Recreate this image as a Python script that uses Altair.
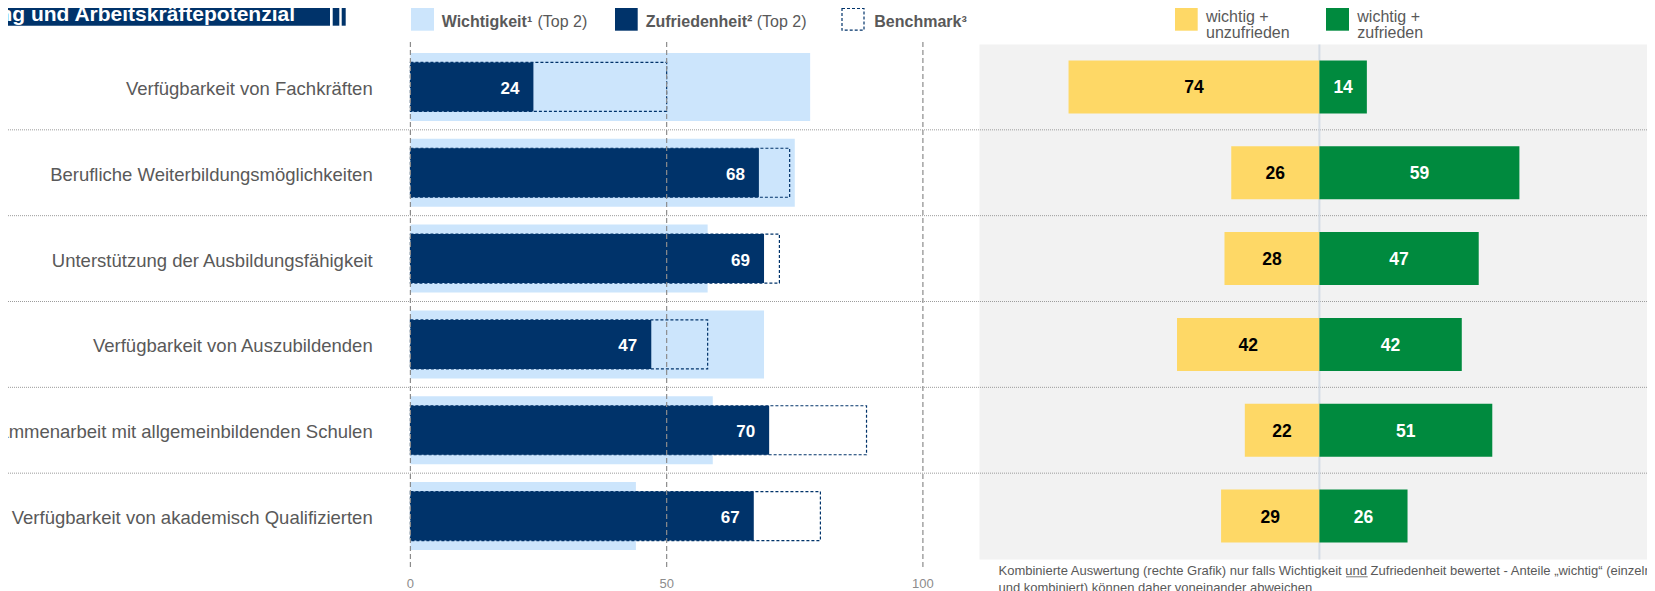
import altair as alt
import pandas as pd

# ---------------- data ----------------
categories = [
    "Verfügbarkeit von Fachkräften",
    "Berufliche Weiterbildungsmöglichkeiten",
    "Unterstützung der Ausbildungsfähigkeit",
    "Verfügbarkeit von Auszubildenden",
    "Zusammenarbeit mit allgemeinbildenden Schulen",
    "Verfügbarkeit von akademisch Qualifizierten",
]
importance = [78, 75, 58, 69, 59, 44]          # Wichtigkeit (Top 2)
satisfaction = [24, 68, 69, 47, 70, 67]        # Zufriedenheit (Top 2)
benchmark = [50, 74, 72, 58, 89, 80]           # Benchmark
important_unsatisfied = [74, 26, 28, 42, 22, 29]
important_satisfied = [14, 59, 47, 42, 51, 26]
tick_values = [0, 50, 100]

title_text = "ng und Arbeitskräftepotenzial"
footnote = [
    "Kombinierte Auswertung (rechte Grafik) nur falls Wichtigkeit und Zufriedenheit bewertet - Anteile \u201ewichtig\u201c (einzeln",
    "und kombiniert) können daher voneinander abweichen",
]

# ---------------- style ----------------
W, H = 1639, 515
FONT = "Liberation Sans"
NAVY = "#00336a"
LIGHT = "#cce5fc"
YELLOW = "#fed866"
GREEN = "#008a3e"
PANEL = "#f2f2f2"
TXT = "#595959"

df = pd.DataFrame({
    "cat": categories,
    "imp": importance,
    "sat": satisfaction,
    "bench": benchmark,
    "unsat_c": important_unsatisfied,
    "sat_c": important_satisfied,
})
ticks = pd.DataFrame({"t": tick_values})
one = pd.DataFrame({"k": [0]})

left_scale = alt.Scale(domain=[-78.52, 241.29], nice=False)
right_scale = alt.Scale(domain=[-386.85, 96.64], nice=False)
yscale = alt.Scale(domain=categories, paddingInner=0, paddingOuter=0)


def Y(**kw):
    return alt.Y("cat:N", scale=yscale, axis=None, **kw)


def vrect(x1, x2, y1, y2, **mk):
    return alt.Chart(one).mark_rect(**mk).encode(
        x=alt.value(x1), x2=alt.value(x2), y=alt.value(y1), y2=alt.value(y2)
    )


def vtext(x, y, txt, **mk):
    opts = dict(align="left", baseline="alphabetic", font=FONT)
    opts.update(mk)
    return alt.Chart(one).mark_text(text=txt, **opts).encode(
        x=alt.value(x), y=alt.value(y)
    )


# ---------------- background ----------------
panel = vrect(971.5, W, 0.5, H + 0.5, color=PANEL)
separators = alt.Chart(df.iloc[1:]).mark_rule(
    color="#9c9c9c", strokeDash=[1, 1], strokeWidth=1
).encode(y=Y(bandPosition=0), x=alt.value(0), x2=alt.value(W))

row_labels = alt.Chart(df).mark_text(
    align="right", baseline="middle", dy=2, font=FONT, fontSize=18.5, color=TXT
).encode(y=Y(), x=alt.value(364.7), text="cat:N")

# ---------------- left panel ----------------
lx = lambda f: alt.X(f, scale=left_scale, axis=None)
light = alt.Chart(df).mark_bar(size=68, color=LIGHT).encode(y=Y(), x=lx("imp:Q"))
dark = alt.Chart(df).mark_bar(size=49, color=NAVY).encode(y=Y(), x=lx("sat:Q"))
bench = alt.Chart(df).mark_bar(
    size=49, fillOpacity=0, stroke=NAVY, strokeDash=[3, 2], strokeWidth=1.2
).encode(y=Y(), x=lx("bench:Q"))
grid = alt.Chart(ticks).mark_rule(
    color="#8c8c8c", strokeDash=[5, 3], strokeWidth=1.2
).encode(x=lx("t:Q"), y=alt.value(-2), y2=alt.value(524))
tick_labels = alt.Chart(ticks).mark_text(
    font=FONT, fontSize=13, color="#8c8c8c", baseline="alphabetic"
).encode(x=lx("t:Q"), y=alt.value(544), text="t:Q")
dark_labels = alt.Chart(df).mark_text(
    align="right", baseline="middle", dx=-14, dy=2, font=FONT, fontSize=17,
    fontWeight="bold", color="white"
).encode(y=Y(), x=lx("sat:Q"), text="sat:Q")

left = alt.layer(light, dark, bench, grid, tick_labels, dark_labels)

# ---------------- right panel ----------------
rx = lambda f: alt.X(f, scale=right_scale, axis=None)
rbase = alt.Chart(df).transform_calculate(
    neg="-datum.unsat_c", neg_mid="-datum.unsat_c / 2", pos_mid="datum.sat_c / 2"
)
center = alt.Chart(one).transform_calculate(z="0").mark_rule(
    color="#d5dce5", strokeWidth=2
).encode(x=rx("z:Q"), y=alt.value(0.5), y2=alt.value(H + 0.5))
ybar = rbase.mark_bar(size=53, color=YELLOW).encode(y=Y(), x=rx("neg:Q"))
gbar = rbase.mark_bar(size=53, color=GREEN).encode(y=Y(), x=rx("sat_c:Q"))
ylab = rbase.mark_text(
    baseline="middle", dy=1.5, font=FONT, fontSize=17.5, fontWeight="bold", color="black"
).encode(y=Y(), x=rx("neg_mid:Q"), text="unsat_c:Q")
glab = rbase.mark_text(
    baseline="middle", dy=1.5, font=FONT, fontSize=17.5, fontWeight="bold", color="white"
).encode(y=Y(), x=rx("pos_mid:Q"), text="sat_c:Q")

right = alt.layer(center, ybar, gbar, ylab, glab)

# ---------------- legend & title ----------------
legend = [
    vrect(403, 426, -36, -13.3, color=LIGHT),
    vtext(433.7, -17.3, "Wichtigkeit\u00b9", fontSize=16, fontWeight="bold", color=TXT),
    vtext(529.5, -17.3, "(Top 2)", fontSize=16, color=TXT),
    vrect(607, 629.7, -36, -13.3, color=NAVY),
    vtext(637.7, -17.3, "Zufriedenheit\u00b2", fontSize=16, fontWeight="bold", color=TXT),
    vtext(748.7, -17.3, "(Top 2)", fontSize=16, color=TXT),
    vrect(834, 856, -35.5, -13.8, fill="white", stroke=NAVY, strokeDash=[3, 2], strokeWidth=1.2),
    vtext(866.3, -17.3, "Benchmark\u00b3", fontSize=16, fontWeight="bold", color=TXT),
    vrect(1167, 1189.7, -36, -13.3, color=YELLOW),
    vtext(1198, -22.5, ["wichtig +", "unzufrieden"], fontSize=16, lineHeight=16, color=TXT),
    vrect(1318, 1341, -36, -13.3, color=GREEN),
    vtext(1349.3, -22.5, ["wichtig +", "zufrieden"], fontSize=16, lineHeight=16, color=TXT),
]
title = [
    vrect(-8, 322, -44, -18.3, color=NAVY),
    vrect(324.7, 331.3, -44, -18.3, color=NAVY),
    vrect(333.7, 337.7, -44, -18.3, color=NAVY),
    vtext(287, -23, title_text, align="right", fontSize=21, fontWeight="bold", color="white"),
]
foot = vtext(990.5, 531, footnote, fontSize=13, lineHeight=16.5, color=TXT)
# underline of "und" in the footnote
und_line = alt.Chart(one).mark_rule(color=TXT, strokeWidth=0.8).encode(
    x=alt.value(1338), x2=alt.value(1359.7), y=alt.value(532.8)
)

chart = alt.layer(
    panel, separators, row_labels, left, right, *legend, *title, foot, und_line
).resolve_scale(x="independent").properties(
    width=W, height=H,
    padding={"left": 0, "top": 36, "right": 0, "bottom": 32},
    autosize=alt.AutoSizeParams(type="none"),
).configure_view(stroke=None)

chart.save("out.html", embed_options={"renderer": "svg", "actions": False})
